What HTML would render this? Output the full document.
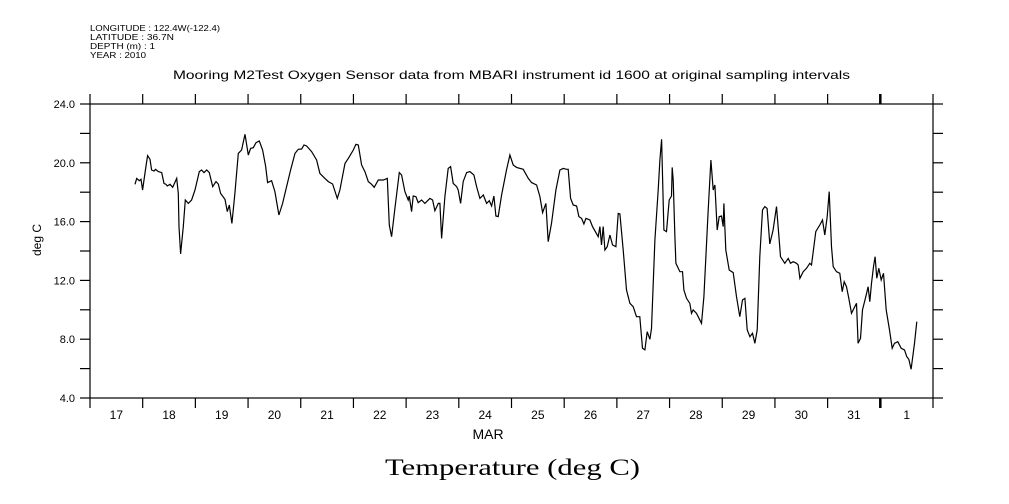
<!DOCTYPE html>
<html><head><meta charset="utf-8"><style>
html,body{margin:0;padding:0;background:#fff;}
svg{display:block;font-family:"Liberation Sans",sans-serif;}
</style></head><body>
<svg id="chart" width="1009" height="504" viewBox="0 0 1009 504" xmlns="http://www.w3.org/2000/svg">
<rect width="1009" height="504" fill="#fff"/>
<g font-size="8" fill="#000">
<text x="90" y="31" textLength="130" lengthAdjust="spacingAndGlyphs">LONGITUDE : 122.4W(-122.4)</text>
<text x="90" y="40" textLength="84" lengthAdjust="spacingAndGlyphs">LATITUDE : 36.7N</text>
<text x="90" y="49" textLength="65" lengthAdjust="spacingAndGlyphs">DEPTH (m) : 1</text>
<text x="90" y="58" textLength="56" lengthAdjust="spacingAndGlyphs">YEAR : 2010</text>
</g>
<text x="173" y="79" textLength="677" lengthAdjust="spacingAndGlyphs" font-size="12">Mooring M2Test Oxygen Sensor data from MBARI instrument id 1600 at original sampling intervals</text>
<g id="axes"></g>
<path id="series" fill="none" stroke="#000" stroke-width="1.2"/>
<text x="41" y="240" transform="rotate(-90 41 240)" text-anchor="middle" font-size="12">deg C</text>
<text x="488" y="439" text-anchor="middle" font-size="14">MAR</text>
<text x="385" y="475" textLength="255" lengthAdjust="spacingAndGlyphs" font-size="23" font-family="'Liberation Serif',serif">Temperature (deg C)</text>
</svg>
<script>
const dayLabels=["17","18","19","20","21","22","23","24","25","26","27","28","29","30","31","1"];
const yTickValues=[4,6,8,10,12,14,16,18,20,22,24];
const yTickLabels=["4.0","","8.0","","12.0","","16.0","","20.0","","24.0"];
// time in days since Mar 17 00:00
const times=[0.854,0.886,0.936,0.968,0.999,1.025,1.063,1.094,1.139,1.170,1.214,1.246,1.297,1.360,1.404,1.442,1.467,1.518,1.569,1.645,1.676,1.689,1.720,1.771,1.809,1.866,1.929,1.992,2.075,2.119,2.163,2.214,2.264,2.328,2.391,2.435,2.479,2.562,2.606,2.644,2.694,2.751,2.815,2.878,2.941,3.004,3.049,3.099,3.150,3.213,3.276,3.333,3.371,3.447,3.510,3.586,3.656,3.732,3.808,3.890,3.953,4.016,4.061,4.111,4.206,4.301,4.364,4.459,4.522,4.605,4.693,4.744,4.839,4.902,4.997,5.047,5.092,5.155,5.218,5.282,5.345,5.395,5.471,5.566,5.642,5.680,5.724,5.787,5.870,5.914,5.977,6.040,6.059,6.104,6.135,6.186,6.230,6.294,6.357,6.452,6.502,6.547,6.610,6.641,6.673,6.736,6.799,6.844,6.894,6.958,6.989,7.034,7.084,7.147,7.211,7.287,7.337,7.400,7.464,7.527,7.578,7.622,7.666,7.704,7.748,7.812,7.906,7.970,8.033,8.096,8.223,8.318,8.381,8.476,8.539,8.590,8.653,8.697,8.760,8.843,8.918,8.982,9.045,9.077,9.121,9.172,9.235,9.279,9.330,9.374,9.412,9.488,9.538,9.646,9.677,9.709,9.741,9.772,9.817,9.867,9.918,9.981,10.025,10.057,10.120,10.183,10.247,10.310,10.373,10.436,10.487,10.531,10.576,10.626,10.658,10.721,10.784,10.816,10.848,10.892,10.942,10.993,11.037,11.050,11.069,11.101,11.120,11.196,11.246,11.272,11.322,11.385,11.417,11.449,11.512,11.607,11.651,11.733,11.784,11.828,11.860,11.904,11.942,11.986,12.018,12.031,12.068,12.132,12.208,12.271,12.334,12.385,12.429,12.473,12.524,12.574,12.619,12.663,12.713,12.764,12.808,12.852,12.903,12.966,13.029,13.080,13.105,13.188,13.251,13.296,13.346,13.409,13.441,13.473,13.536,13.599,13.662,13.694,13.776,13.852,13.903,13.947,13.991,14.029,14.074,14.105,14.168,14.232,14.276,14.314,14.358,14.402,14.453,14.516,14.548,14.579,14.624,14.662,14.725,14.769,14.801,14.833,14.870,14.902,14.934,14.972,15.016,15.060,15.111,15.174,15.225,15.269,15.332,15.396,15.459,15.503,15.541,15.585,15.648,15.693];
const temps=[18.54,18.94,18.78,18.88,18.15,18.83,19.78,20.49,20.24,19.51,19.44,19.56,19.40,19.33,18.60,18.54,18.42,18.54,18.33,18.94,17.92,15.66,13.80,15.66,17.47,17.24,17.47,18.15,19.40,19.51,19.33,19.51,19.33,18.38,18.72,18.56,17.92,17.51,16.68,17.13,15.88,17.92,20.64,20.87,21.94,20.53,20.98,21.03,21.37,21.48,20.87,19.78,18.65,18.78,18.04,16.45,17.24,18.38,19.51,20.64,20.92,20.94,21.21,21.14,20.76,20.19,19.28,18.94,18.72,18.56,17.58,18.15,19.96,20.30,20.87,21.26,21.21,19.85,19.40,18.72,18.54,18.33,18.83,18.83,18.94,15.77,14.97,16.90,19.33,19.17,18.04,17.47,17.74,16.68,17.74,17.70,17.29,17.47,17.24,17.58,17.47,16.74,17.24,17.24,14.86,17.70,19.62,19.74,18.60,18.38,18.15,17.24,18.72,19.33,19.40,19.17,18.38,17.58,17.81,17.24,17.42,17.06,17.74,16.38,16.34,17.81,19.51,20.53,19.85,19.69,19.56,18.94,18.65,18.49,17.70,16.61,17.24,14.63,15.88,18.15,19.51,19.62,19.56,19.56,17.58,17.13,17.06,16.34,16.22,15.84,16.22,16.11,15.66,14.97,15.66,14.41,15.66,14.07,14.29,15.09,14.41,14.29,16.56,16.52,14.07,11.35,10.44,10.21,9.53,9.53,7.38,7.27,8.51,7.99,8.74,14.75,18.15,20.19,21.60,15.43,15.32,17.47,17.74,19.69,18.83,14.97,13.16,12.59,12.59,11.35,10.78,10.44,9.76,9.99,9.76,9.08,10.89,16.79,20.19,18.15,18.49,15.43,16.34,16.38,15.66,17.24,14.07,12.71,12.53,10.89,9.53,10.67,10.78,8.63,8.17,8.40,7.72,8.63,13.61,16.79,17.02,16.90,14.48,15.43,17.02,14.75,13.61,13.16,13.50,13.16,13.27,13.16,13.05,12.14,12.59,12.82,13.16,13.05,15.32,15.77,16.11,15.09,16.34,18.04,14.29,12.93,12.59,12.48,11.23,11.91,11.57,10.78,9.76,10.21,10.44,7.72,8.06,9.99,10.89,11.57,10.55,11.80,12.93,13.61,12.14,12.82,12.03,12.48,9.99,8.63,7.38,7.72,7.83,7.38,7.27,6.81,6.63,5.95,7.72,9.19];

const L=90,R=933,T=104,B=398,TMAX=16,VMIN=4,VMAX=24;
const xs=t=>L+(t/TMAX)*(R-L);
const ys=v=>B-(v-VMIN)/(VMAX-VMIN)*(B-T);
const NS="http://www.w3.org/2000/svg";
const axes=document.getElementById('axes');
function mk(tag,attrs){const e=document.createElementNS(NS,tag);for(const k in attrs)e.setAttribute(k,attrs[k]);axes.appendChild(e);return e;}
let frame=mk('rect',{x:L,y:T,width:R-L,height:B-T,fill:'none',stroke:'#000','stroke-width':1.2});


for(let i=0;i<=dayLabels.length;i++){
  const x=xs(i);const w=(i===15)?2.5:1.2;
  let t1=mk('line',{x1:x,x2:x,y1:T,y2:T-10,stroke:'#000','stroke-width':w});
  
  
  let t2=mk('line',{x1:x,x2:x,y1:B,y2:B+10,stroke:'#000','stroke-width':w});
  
  
  if(i<dayLabels.length){
    let lb=mk('text',{x:xs(i+0.5),y:419,'text-anchor':'middle','font-size':12});
    lb.textContent=dayLabels[i];
    
    
  }
}
yTickValues.forEach((v,i)=>{
  const y=ys(v);
  let a=mk('line',{x1:L-10,x2:L,y1:y,y2:y,stroke:'#000','stroke-width':1.2});
  
  
  let b=mk('line',{x1:R,x2:R+10,y1:y,y2:y,stroke:'#000','stroke-width':1.2});
  
  
  if(yTickLabels[i]){
    let lb=mk('text',{x:75,y:y+4,'text-anchor':'end','font-size':11});
    lb.textContent=yTickLabels[i];
    
    
  }
});
document.getElementById('series').setAttribute('d',times.map((t,i)=>(i?'L':'M')+xs(t).toFixed(1)+' '+ys(temps[i]).toFixed(1)).join(' '));
</script>
</body></html>
